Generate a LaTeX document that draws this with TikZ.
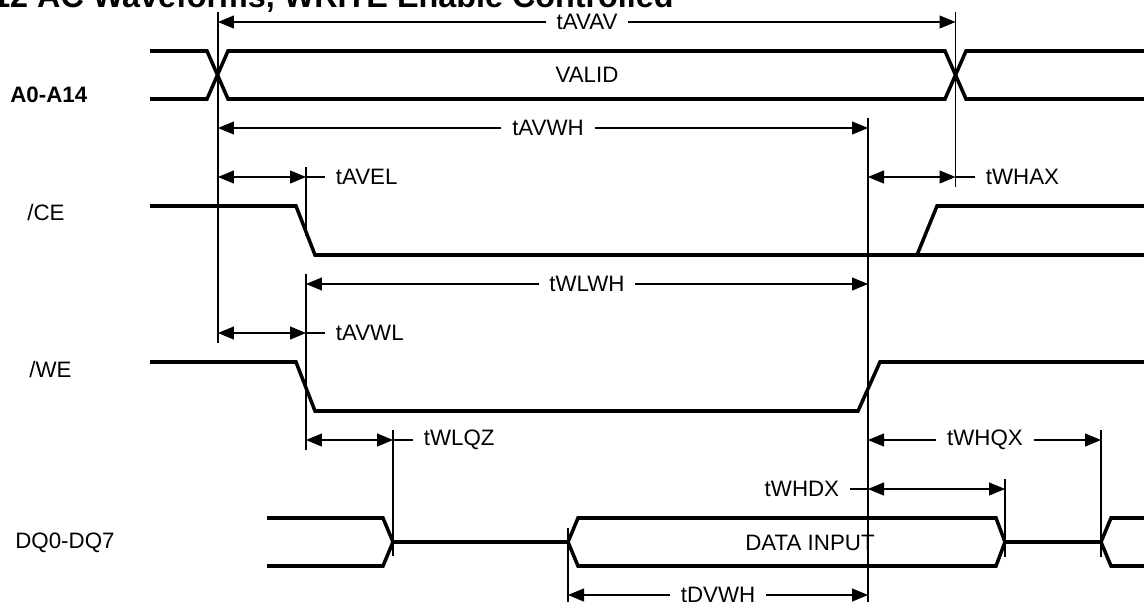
\documentclass[tikz,border=0pt]{standalone}
\usepackage{fontspec}
\setmainfont{Liberation Sans}
\usetikzlibrary{arrows.meta}

\tikzset{
  sig/.style={line width=2pt},
  guide/.style={line width=0.6pt},
  dim/.style={guide,-{Triangle[length=3.2mm,width=2.6mm]}},
  dimboth/.style={guide,{Triangle[length=3.2mm,width=2.6mm]}-{Triangle[length=3.2mm,width=2.6mm]}},
  lbl/.style={font=\fontsize{12.7}{15}\selectfont,inner xsep=6pt,inner ysep=0pt},
  tag/.style={lbl,anchor=west},
  signame/.style={font=\fontsize{12.7}{15}\selectfont,inner sep=0pt,anchor=west}
}

\begin{document}
\begin{tikzpicture}[line join=miter,x=0.02cm,y=-0.02cm]
\useasboundingbox (0,0) rectangle (1144,602);
\clip (0,0) rectangle (1144,602);
\fill[white] (0,0) rectangle (1144,602);

% title, cut by the top edge
\node[anchor=base east,inner sep=0pt,font=\fontsize{18.4}{22}\selectfont\bfseries] (title) at (674,7) {12 AC Waveforms, WRITE Enable Controlled};

% signal names
\node[signame,font=\fontsize{12.7}{15}\selectfont\bfseries] (nA) at (10,95) {A0-A14};
\node[signame] (nCE) at (27,213) {/CE};
\node[signame] (nWE) at (29,370) {/WE};
\node[signame] (nDQ) at (15,543) {DQ0-DQ7};

% guide lines
\draw[guide] (218,12) -- (218,343);
\draw[guide] (955.5,12) -- (955.5,187);
\draw[guide] (868,118) -- (868,602);
\draw[guide] (306,167) -- (306,236);
\draw[guide] (306,274) -- (306,450);
\draw[guide] (393,430) -- (393,556);
\draw[guide] (1005,479) -- (1005,557);
\draw[guide] (1101,430) -- (1101,557);
\draw[guide] (568,528) -- (568,602);

% A0-A14
\draw[sig] (150,51) -- (207,51) -- (228,99) -- (945,99) -- (966,51) -- (1144,51);
\draw[sig] (150,99) -- (207,99) -- (228,51) -- (945,51) -- (966,99) -- (1144,99);
\node[lbl] (valid) at (587,75) {VALID};

% /CE
\draw[sig] (150,206) -- (296,206) -- (315,255) -- (1144,255);
\draw[sig] (917,255) -- (937,206) -- (1144,206);

% /WE
\draw[sig] (150,362) -- (296,362) -- (315,411) -- (858,411) -- (880,362) -- (1144,362);

% DQ0-DQ7
\draw[sig] (267,518) -- (383,518) -- (393,542) -- (383,566) -- (267,566);
\draw[sig] (393,542) -- (568,542);
\draw[sig] (568,542) -- (578,518) -- (996,518) -- (1005,542) -- (996,566) -- (578,566) -- cycle;
\draw[sig] (1005,542) -- (1101,542);
\draw[sig] (1144,518) -- (1111,518) -- (1101,542) -- (1111,566) -- (1144,566);
\node[lbl] (din) at (810,543) {DATA INPUT};

% timing values
\node[lbl] (tavav) at (587,22) {tAVAV};
\draw[dim] (tavav.west) -- (218,22);
\draw[dim] (tavav.east) -- (955.5,22);

\node[lbl] (tavwh) at (548,128) {tAVWH};
\draw[dim] (tavwh.west) -- (218,128);
\draw[dim] (tavwh.east) -- (868,128);

\node[tag] (tavel) at (325,177) {tAVEL};
\draw[dimboth] (218,177) -- (306,177);
\draw[guide] (306,177) -- (tavel.west);

\node[tag] (twhax) at (975,177) {tWHAX};
\draw[dimboth] (868,177) -- (955.5,177);
\draw[guide] (955.5,177) -- (twhax.west);

\node[lbl] (twlwh) at (587,284) {tWLWH};
\draw[dim] (twlwh.west) -- (306,284);
\draw[dim] (twlwh.east) -- (868,284);

\node[tag] (tavwl) at (325,333) {tAVWL};
\draw[dimboth] (218,333) -- (306,333);
\draw[guide] (306,333) -- (tavwl.west);

\node[tag] (twlqz) at (413,440) {tWLQZ};
\draw[dimboth] (306,440) -- (393,440);
\draw[guide] (393,440) -- (twlqz.west);

\node[lbl] (twhqx) at (985,440) {tWHQX};
\draw[dim] (twhqx.west) -- (868,440);
\draw[dim] (twhqx.east) -- (1101,440);

\node[lbl,anchor=east] (twhdx) at (850,489) {tWHDX};
\draw[guide] (twhdx.east) -- (868,489);
\draw[dimboth] (868,489) -- (1005,489);

\node[lbl] (tdvwh) at (718,595) {tDVWH};
\draw[dim] (tdvwh.west) -- (568,595);
\draw[dim] (tdvwh.east) -- (868,595);
\end{tikzpicture}
\end{document}
